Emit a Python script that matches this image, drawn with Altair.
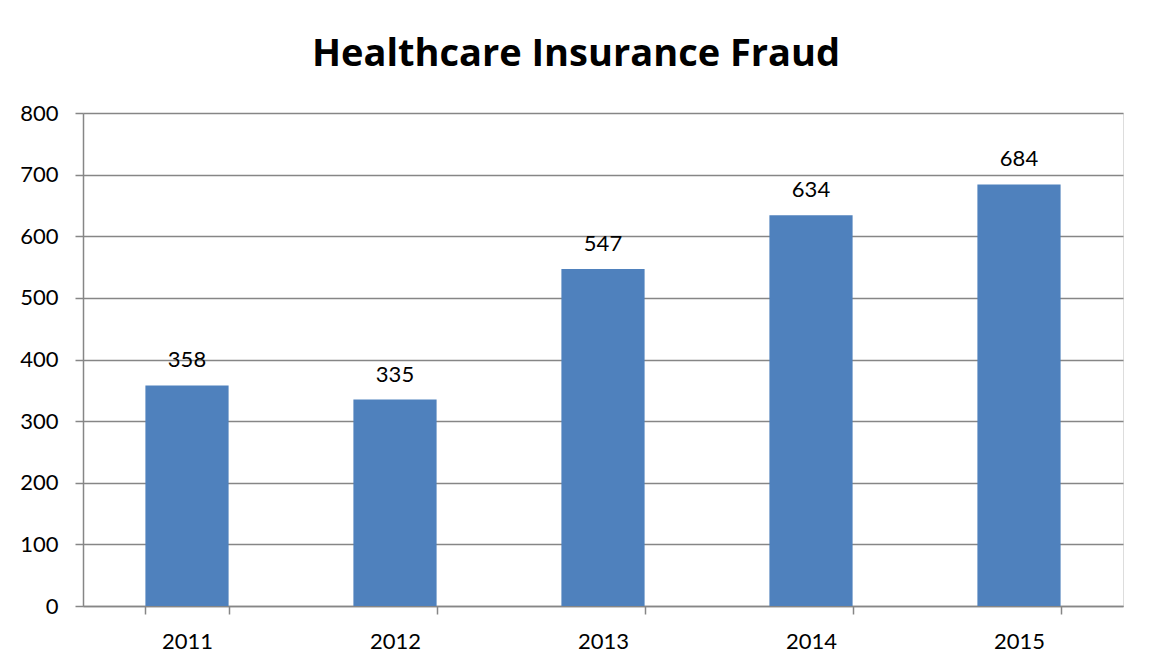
import altair as alt
import pandas as pd

years = ["2011", "2012", "2013", "2014", "2015"]
values = [358, 335, 547, 634, 684]
y_ticks = [0, 100, 200, 300, 400, 500, 600, 700, 800]

df = pd.DataFrame({"year": years, "value": values})

FONT = "Lato"
GRID = "#868686"
BAR = "#4F81BD"

base = alt.Chart(df).encode(
    x=alt.X(
        "year:N",
        sort=years,
        title=None,
        scale=alt.Scale(paddingInner=0.6, paddingOuter=0.3),
        axis=alt.Axis(
            labelAngle=0,
            labelFont=FONT,
            labelFontSize=22,
            labelColor="#000000",
            labelPadding=17,
            domainColor=GRID,
            domainWidth=1.5,
            tickColor=GRID,
            tickWidth=1.5,
            tickSize=8,
            tickBand="extent",
            grid=False,
        ),
    )
)

bars = base.mark_bar(color=BAR).encode(
    y=alt.Y(
        "value:Q",
        title=None,
        scale=alt.Scale(domain=[0, 800], nice=False),
        axis=alt.Axis(
            values=y_ticks,
            labelFont=FONT,
            labelFontSize=22,
            labelColor="#000000",
            labelPadding=17,
            domainColor=GRID,
            domainWidth=1.5,
            tickColor=GRID,
            tickWidth=1.5,
            tickSize=8,
            gridColor=GRID,
            gridWidth=1.5,
        ),
    )
)

labels = base.mark_text(
    font=FONT, fontSize=22, color="#000000", dy=-13, baseline="bottom"
).encode(y="value:Q", text="value:Q")

chart = (
    alt.layer(bars, labels)
    .properties(
        width=1040,
        height=493,
        title=alt.TitleParams(
            "Healthcare Insurance Fraud",
            font="Open Sans",
            fontSize=38,
            fontWeight="bold",
            color="#000000",
            anchor="middle",
            offset=28,
            dx=-27,
        ),
        autosize=alt.AutoSizeParams(type="none"),
        padding={"left": 75, "top": 105, "right": 21, "bottom": 57},
    )
    .configure_view(stroke=None)
    .configure(background="white")
)

chart.save("out.html", embed_options={"renderer": "svg", "actions": False})
